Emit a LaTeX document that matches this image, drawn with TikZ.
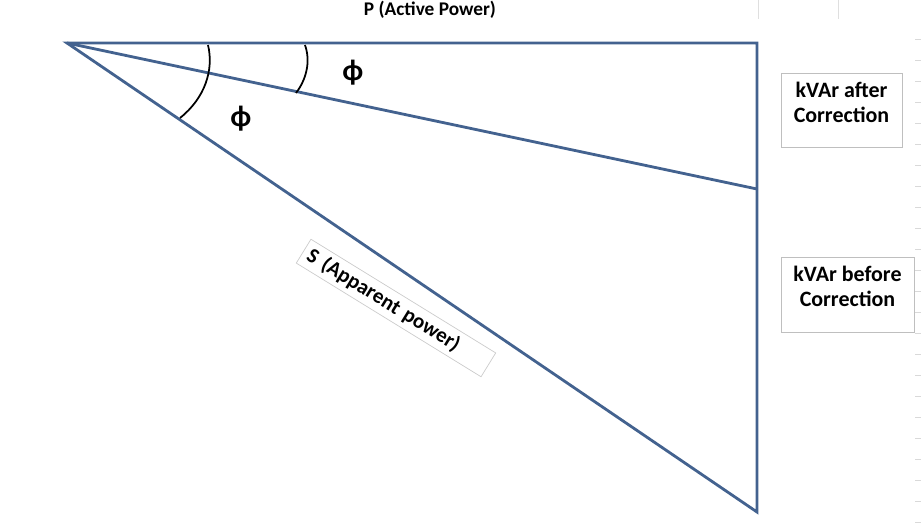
\documentclass[tikz,border=0pt]{standalone}
\usepackage{fontspec}
\setmainfont{Carlito}
\begin{document}
\begin{tikzpicture}[x=0.02cm,y=-0.02cm]
\definecolor{sideblue}{HTML}{43628F}
\tikzset{side/.style={draw=sideblue, line width=1.6pt},
  tbox/.style={font=\bfseries\fontsize{12.5pt}{14.5pt}\selectfont, align=center},
  arcl/.style={black, line width=1pt}}
\useasboundingbox (0,0) rectangle (921,531);
\draw[gray!25] (758,0) -- (758,19) (838,0) -- (838,19);
\foreach \yy in {39,60,81,102,123,144,165,186,207,228,249,270,291,312,333,354,375,396,417,438,459,480,501,522}
  \draw[gray!30] (915,\yy) -- (921,\yy);
\coordinate (O) at (67,43);
\coordinate (A) at (757,43);
\coordinate (B) at (757,189);
\coordinate (C) at (757,512);
\draw[side] (O) -- (A) -- (C) -- cycle;
\draw[side] (O) -- (B);
\draw[arcl] (208,45) .. controls (214,70) and (205,98) .. (180,118);
\draw[arcl] (305,45) .. controls (311,62) and (306,80) .. (296,93);
\node[font=\bfseries\fontsize{17pt}{19pt}\selectfont] (p1) at (353,73) {ϕ};
\node[font=\bfseries\fontsize{17pt}{19pt}\selectfont] (p2) at (241,119) {ϕ};
\node[font=\bfseries\fontsize{11pt}{13pt}\selectfont] (P) at (430,10) {P (Active Power)};
\node[draw=gray!50, minimum width=2.42cm, minimum height=1.48cm] (k1) at (841.5,110) {};
\node[tbox, anchor=north, inner sep=1pt] (k1t) at (841.5,80) {kVAr after\\Correction};
\node[draw=gray!50, minimum width=2.66cm, minimum height=1.5cm] (k2) at (847.5,294.5) {};
\node[tbox, anchor=north, inner sep=1pt] (k2t) at (847.5,264) {kVAr before\\Correction};
\node[draw=gray!40, fill=white, rotate=-31.6, minimum width=4.34cm, minimum height=0.56cm, text width=4.1cm, align=left, font=\bfseries\fontsize{12pt}{14pt}\selectfont, inner sep=2pt] (S) at (396,308) {S (Apparent power)};
\end{tikzpicture}
\end{document}
